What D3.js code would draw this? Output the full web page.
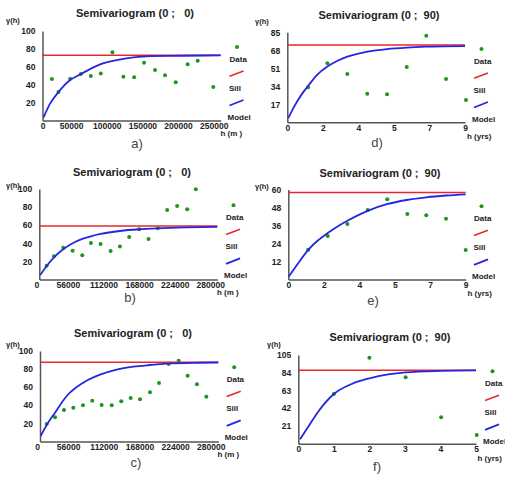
<!DOCTYPE html>
<html><head><meta charset="utf-8">
<script src="https://cdn.jsdelivr.net/npm/d3@7"></script>
<style>
html,body{margin:0;padding:0;background:#fff;}
svg{display:block;font-family:"Liberation Sans",Arial,sans-serif;}
text{white-space:pre;}
</style></head><body>
<svg id="chart" width="505" height="482"></svg>
<script>
// ---------- DATA ----------
const titleA = "Semivariogram (0 ;   0)";
const titleB = "Semivariogram (0 ;   0)";
const titleC = "Semivariogram (0 ;   0)";
const titleD = "Semivariogram (0 ;  90)";
const titleE = "Semivariogram (0 ;  90)";
const titleF = "Semivariogram (0 ;  90)";
const captions = ["a)", "b)", "c)", "d)", "e)", "f)"];
const legendLabels = ["Data", "Sill", "Model"];
const unitM = "h (m )";
const unitY = "h (yrs)";
const yLabel = "γ(h)";

// panel a
const hA = [13200, 22400, 38800, 53800, 67800, 81800, 98100, 113500, 128500, 142500, 157900, 171900, 186900, 203700, 217700, 239600];
const gammaA = [46.2, 31.7, 46.6, 51.8, 49.6, 52.6, 76.1, 48.8, 48.2, 64.5, 56.3, 50.4, 42.6, 62.7, 66.7, 37.3];
const sillA = 73;
const modelHA = [1500, 10800, 22400, 38800, 53800, 80900, 104200, 127600, 151000, 197700, 250000];
const modelGammaA = [3.4, 19, 31.7, 45.1, 51.8, 62.7, 67.5, 70.5, 72, 72.3, 72.8];
const xTicksA = [0, 50000, 100000, 150000, 200000, 250000];
const yTicksA = [20, 40, 60, 80, 100];

// panel b
const hB = [11600, 23100, 37700, 52400, 67600, 81200, 96400, 112200, 126800, 141400, 157100, 171800, 186500, 201100, 216800, 232600, 246200];
const gammaB = [15.3, 25.6, 35.1, 31.8, 26.7, 40.3, 39.2, 31.5, 36.6, 46.9, 55.5, 44.8, 56.6, 76.8, 81.2, 77.6, 99.7];
const sillB = 59;
const modelHB = [1500, 11600, 23100, 37700, 52400, 67600, 81200, 96400, 126800, 157100, 186500, 230000, 280000];
const modelGammaB = [5, 15, 24.5, 33.4, 40, 44.8, 47.7, 50.3, 53.6, 55.5, 56.6, 57.6, 58.2];
const xTicksB = [0, 56000, 112000, 168000, 224000, 280000];
const yTicksB = [20, 40, 60, 80, 100];

// panel c
const hC = [10500, 23600, 37700, 52300, 67500, 82100, 96800, 112600, 127600, 142400, 157000, 172700, 186900, 202100, 217800, 231900, 246500, 261200];
const gammaC = [19.2, 26.6, 34.7, 37.3, 39.9, 45, 40.3, 39.9, 44.4, 48, 46.6, 54.3, 64.6, 85.6, 89.3, 72.7, 63.2, 49.5];
const sillC = 87.5;
const modelHC = [1100, 10500, 23600, 41900, 68000, 94300, 120400, 146600, 172700, 198900, 251200, 280000];
const modelGammaC = [6, 18.1, 31.8, 50.2, 65, 73.8, 79.4, 82.6, 84.5, 86, 87, 87.3];
const xTicksC = [0, 56000, 112000, 168000, 224000, 280000];
const yTicksC = [20, 40, 60, 80, 100];

// panel d
const hD = [1.05, 2.03, 3.04, 4.05, 5.05, 6.05, 7.04, 8.04, 9.05];
const gammaD = [33.1, 55.7, 45.6, 27, 26.4, 52.2, 81.8, 40.9, 21.1];
const sillD = 73;
const modelHD = [0.05, 0.3, 0.56, 0.81, 1.06, 1.5, 2.03, 2.5, 3.04, 4.05, 5.05, 6.05, 7.04, 9];
const modelGammaD = [4, 13.2, 21.5, 28.5, 34.5, 44.6, 52.6, 57.6, 62, 66.7, 69.2, 70.6, 71.4, 72];
const xTicksD = [0, 1.8, 3.6, 5.4, 7.2, 9];
const yTicksD = [17, 34, 51, 68, 85];

// panel e
const hE = [1.01, 2.0, 3.0, 4.03, 5.02, 6.04, 7.0, 8.0, 9.0];
const gammaE = [19.9, 29, 37, 46.3, 53.5, 43.7, 42.8, 40.5, 19.7];
const sillE = 58;
const modelHE = [0.03, 0.5, 1.01, 1.5, 2, 2.5, 3, 3.5, 4.03, 5, 6, 7, 8, 9];
const modelGammaE = [2, 10.8, 19.8, 26, 31, 35.4, 39.2, 42.6, 45.8, 50.2, 53, 54.8, 56, 56.8];
const xTicksE = [0, 1.8, 3.6, 5.4, 7.2, 9];
const yTicksE = [12, 24, 36, 48, 60];

// panel f
const hF = [1.0, 2.0, 3.02, 4.02, 5.02];
const gammaF = [58.8, 101.8, 78.6, 31.2, 10.3];
const sillF = 87;
const modelHF = [0.05, 0.28, 0.56, 1.0, 1.5, 2.0, 2.53, 3.02, 4.02, 5.0];
const modelGammaF = [5.2, 20.1, 37.9, 58.8, 70.7, 77.4, 82.1, 84.5, 86.2, 86.8];
const xTicksF = [0, 1, 2, 3, 4, 5];
const yTicksF = [21, 42, 63, 84, 105];

// ---------- LAYOUT ----------
const panels = [
  {title: titleA, cap: captions[0], unit: unitM, h: hA, g: gammaA, sill: sillA, mh: modelHA, mg: modelGammaA, xt: xTicksA, yt: yTicksA, xMax: 250000, yMax: 100,
   xL: 42.5, xR: 220.7, y0: 120.4, yT: 31, tX: 135, tY: 13.5, gX: 6, gY: 20, cX: 137, cY: 143, uX: 220.5, uY: 133.5, lX: 229.5, lY: 59, dx: -7, dx0: 0},
  {title: titleB, cap: captions[1], unit: unitM, h: hB, g: gammaB, sill: sillB, mh: modelHB, mg: modelGammaB, xt: xTicksB, yt: yTicksB, xMax: 280000, yMax: 100,
   xL: 39.3, xR: 217.3, y0: 279.5, yT: 189, tX: 132, tY: 172, gX: 6, gY: 185, cX: 130, cY: 297, uX: 217, uY: 292, lX: 226, lY: 217.3, dx: -7, dx0: -3},
  {title: titleC, cap: captions[2], unit: unitM, h: hC, g: gammaC, sill: sillC, mh: modelHC, mg: modelGammaC, xt: xTicksC, yt: yTicksC, xMax: 280000, yMax: 100,
   xL: 40, xR: 218.3, y0: 441.4, yT: 351, tX: 133, tY: 333, gX: 6, gY: 344, cX: 136, cY: 462, uX: 217.5, uY: 454, lX: 226.7, lY: 379.3, dx: -7.5, dx0: -3},
  {title: titleD, cap: captions[3], unit: unitY, h: hD, g: gammaD, sill: sillD, mh: modelHD, mg: modelGammaD, xt: xTicksD, yt: yTicksD, xMax: 9, yMax: 85,
   xL: 287.3, xR: 465, y0: 122.3, yT: 32.3, tX: 379, tY: 15, gX: 255, gY: 21.7, cX: 377, cY: 142.5, uX: 467, uY: 136, lX: 474, lY: 61, dx: 0, dx0: 0},
  {title: titleE, cap: captions[4], unit: unitY, h: hE, g: gammaE, sill: sillE, mh: modelHE, mg: modelGammaE, xt: xTicksE, yt: yTicksE, xMax: 9, yMax: 60,
   xL: 288.3, xR: 465.7, y0: 279.5, yT: 189.5, tX: 380, tY: 172.7, gX: 255, gY: 186, cX: 373, cY: 300, uX: 467.5, uY: 293, lX: 474, lY: 218.3, dx: 0, dx0: 0},
  {title: titleF, cap: captions[5], unit: unitY, h: hF, g: gammaF, sill: sillF, mh: modelHF, mg: modelGammaF, xt: xTicksF, yt: yTicksF, xMax: 5, yMax: 105,
   xL: 298.3, xR: 476, y0: 443.7, yT: 355, tX: 390, tY: 336.7, gX: 267, gY: 344, cX: 377, cY: 466.7, uX: 477.5, uY: 458, lX: 485, lY: 383.3, dx: 0, dx0: 0}
];

const RED = "#e8262b", BLUE = "#2626e0", GREEN = "#1c961f", AXIS = "#555", TXT = "#222";
const svg = d3.select("#chart");
svg.append("rect").attr("width", 505).attr("height", 482).attr("fill", "#fff");

panels.forEach(p => {
  const g = svg.append("g");
  const x = d3.scaleLinear().domain([0, p.xMax]).range([p.xL, p.xR]);
  const y = d3.scaleLinear().domain([0, p.yMax]).range([p.y0, p.yT]);

  // axes
  const fmt = p.xMax < 100 ? d3.format(".0f") : d3.format("d");
  const xa = g.append("g").attr("transform", `translate(0,${p.y0})`)
    .call(d3.axisBottom(x).tickValues(p.xt).tickSize(0).tickSizeOuter(0).tickPadding(2.5).tickFormat(fmt));
  xa.selectAll("text").attr("dx", d => d === 0 ? p.dx0 : p.dx);
  const ya = g.append("g").attr("transform", `translate(${p.xL},0)`)
    .call(d3.axisLeft(y).tickValues(p.yt).tickSize(0).tickSizeOuter(0).tickPadding(7));
  [xa, ya].forEach(a => {
    a.select(".domain").attr("stroke", AXIS).attr("stroke-width", 1.5);
    a.selectAll("text").attr("font-size", 8.5).attr("font-weight", "bold").attr("fill", TXT)
      .attr("font-family", '"Liberation Sans",Arial,sans-serif');
  });

  // data points
  g.append("g").selectAll("circle").data(p.h.map((h, i) => [h, p.g[i]])).join("circle")
    .attr("cx", d => x(d[0])).attr("cy", d => y(d[1])).attr("r", 2).attr("fill", GREEN);

  // sill
  g.append("path").datum([0, p.xMax])
    .attr("d", d3.line().x(d => x(d)).y(() => y(p.sill)))
    .attr("fill", "none").attr("stroke", RED).attr("stroke-width", 1.5);

  // model
  g.append("path").datum(p.mh.map((h, i) => [h, p.mg[i]]))
    .attr("d", d3.line().x(d => x(d[0])).y(d => y(d[1])).curve(d3.curveMonotoneX))
    .attr("fill", "none").attr("stroke", BLUE).attr("stroke-width", 1.8);

  // title
  g.append("text").attr("x", p.tX).attr("y", p.tY).attr("dy", "0.35em").attr("text-anchor", "middle")
    .attr("font-size", 11).attr("font-weight", "bold").attr("fill", TXT).text(p.title);
  // y label
  g.append("text").attr("x", p.gX).attr("y", p.gY).attr("dy", "0.35em")
    .attr("font-size", 7.5).attr("font-weight", "bold").attr("fill", TXT).text(yLabel);
  // x unit
  g.append("text").attr("x", p.uX).attr("y", p.uY).attr("dy", "0.35em")
    .attr("font-size", 8).attr("font-weight", "bold").attr("fill", TXT).text(p.unit);
  // caption
  g.append("text").attr("x", p.cX).attr("y", p.cY).attr("dy", "0.35em").attr("text-anchor", "middle")
    .attr("font-size", 13).attr("fill", "#444").text(p.cap);

  // legend
  const L = p.lX, Y = p.lY;
  g.append("circle").attr("cx", L + 7.5).attr("cy", Y - 12).attr("r", 2).attr("fill", GREEN);
  g.append("line").attr("x1", L).attr("y1", Y + 17.2).attr("x2", L + 14).attr("y2", Y + 12)
    .attr("stroke", RED).attr("stroke-width", 1.5);
  g.append("line").attr("x1", L).attr("y1", Y + 46.5).attr("x2", L + 14).attr("y2", Y + 41)
    .attr("stroke", BLUE).attr("stroke-width", 1.8);
  const lt = [[L, Y], [L - 0.5, Y + 29.2], [L - 2, Y + 58.3]];
  legendLabels.forEach((t, i) => {
    g.append("text").attr("x", lt[i][0]).attr("y", lt[i][1]).attr("dy", "0.35em")
      .attr("font-size", 8).attr("font-weight", "bold").attr("fill", TXT).text(t);
  });
});
</script>
</body></html>
